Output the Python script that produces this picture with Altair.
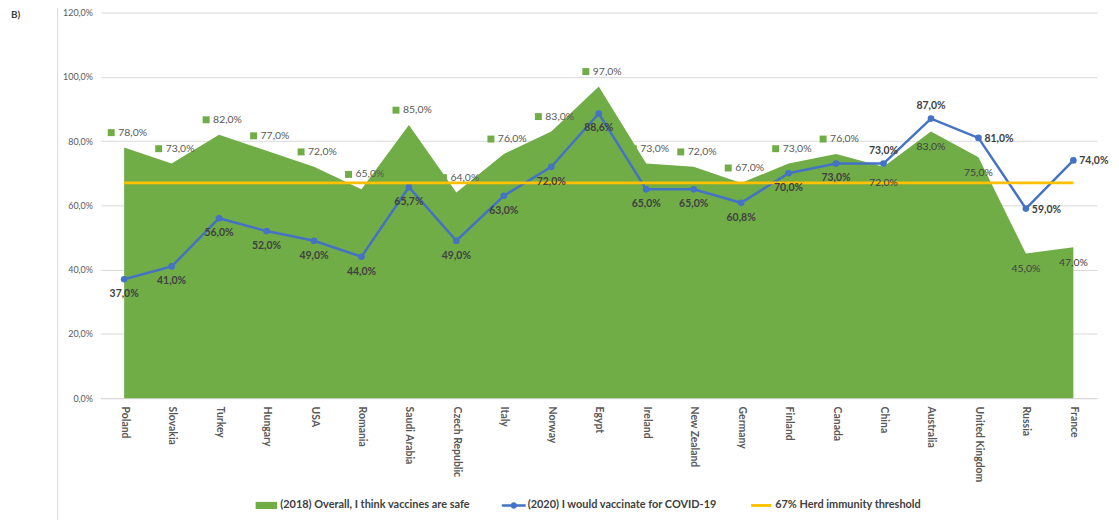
import altair as alt
import pandas as pd

countries = ["Poland", "Slovakia", "Turkey", "Hungary", "USA", "Romania", "Saudi Arabia",
             "Czech Republic", "Italy", "Norway", "Egypt", "Ireland", "New Zealand", "Germany",
             "Finland", "Canada", "China", "Australia", "United Kingdom", "Russia", "France"]
safe_2018 = [78, 73, 82, 77, 72, 65, 85, 64, 76, 83, 97, 73, 72, 67, 73, 76, 72, 83, 75, 45, 47]
vacc_2020 = [37, 41, 56, 52, 49, 44, 65.7, 49, 63, 72, 88.6, 65, 65, 60.8, 70, 73, 73, 87, 81, 59, 74]
herd = 67
y_ticks = [0, 20, 40, 60, 80, 100, 120]

L18 = "(2018) Overall, I think vaccines are safe"
L20 = "(2020) I would vaccinate for COVID-19"
L67 = "67% Herd immunity threshold"
series_names = [L18, L20, L67]

GREEN = "#70AD47"
BLUE = "#4472C4"
ORANGE = "#FFC000"
FONT = "Lato"

df = pd.DataFrame({"country": countries, "v2018": safe_2018, "v2020": vacc_2020,
                   "herd": [herd] * len(countries)})

xenc = alt.X("country:N", sort=countries,
             scale=alt.Scale(type="point", padding=0.5),
             axis=alt.Axis(title=None, labelAngle=90, labelFontWeight="bold", labelFontSize=10.5,
                           labelColor="#595959", labelFont=FONT, domain=True,
                           domainColor="#D9D9D9", ticks=False, labelPadding=8, grid=False))
yscale = alt.Scale(domain=[0, 120], nice=False)

color_scale = alt.Scale(domain=series_names, range=[GREEN, BLUE, ORANGE])
shape_scale = alt.Scale(domain=series_names, range=[
    "M-0.9,-0.3H0.9V0.3H-0.9Z",
    "M-1,-0.1H1V0.1H-1Z M-0.27,0A0.27,0.27,0,1,1,0.27,0A0.27,0.27,0,1,1,-0.27,0Z",
    "M-0.85,-0.12H0.85V0.12H-0.85Z",
])
legend = alt.Legend(
    title=None, orient="none", legendX=155, legendY=484, direction="horizontal",
    columns=3, columnPadding=32, labelFont=FONT, labelFontSize=11, labelFontWeight="bold",
    labelColor="#404040", symbolSize=576, labelOffset=2, labelLimit=400,
    symbolStrokeWidth=0, symbolOpacity=1,
)

base = alt.Chart(df)

area = base.mark_area(opacity=1).transform_calculate(series=f"'{L18}'").encode(
    x=xenc,
    y=alt.Y("v2018:Q", scale=yscale,
            axis=alt.Axis(title=None, values=y_ticks, domain=False, ticks=False,
                          labelFontSize=9, labelColor="#595959", labelFont=FONT,
                          labelPadding=8, gridColor="#D9D9D9",
                          labelExpr="replace(format(datum.value, '.1f'), '.', ',') + '%'")),
    color=alt.Color("series:N", scale=color_scale, legend=legend),
)

blue_line = base.mark_line(strokeWidth=2.5).transform_calculate(series=f"'{L20}'").encode(
    x=alt.X("country:N", sort=countries), y=alt.Y("v2020:Q"),
    color=alt.Color("series:N", scale=color_scale, legend=legend),
)
blue_pts = base.mark_circle(size=45, opacity=1, color=BLUE).encode(
    x=alt.X("country:N", sort=countries), y=alt.Y("v2020:Q"),
)

herd_line = base.mark_line(strokeWidth=3).transform_calculate(series=f"'{L67}'").encode(
    x=alt.X("country:N", sort=countries), y=alt.Y("herd:Q"),
    color=alt.Color("series:N", scale=color_scale, legend=legend),
)

legend_layer = alt.Chart(pd.DataFrame({"series": series_names})).transform_filter(
    "false").mark_point(filled=True, opacity=1).encode(
    color=alt.Color("series:N", scale=color_scale, legend=legend),
    shape=alt.Shape("series:N", scale=shape_scale, legend=legend),
)

fmt18 = "replace(format(datum.v2018, '.1f'), '.', ',') + '%'"
fmt20 = "replace(format(datum.v2020, '.1f'), '.', ',') + '%'"

g_above = base.transform_filter("datum.v2020 <= datum.v2018").transform_calculate(lab=fmt18)
g_sq = g_above.mark_square(size=49, color=GREEN, opacity=1, xOffset=-13, yOffset=-15).encode(
    x=alt.X("country:N", sort=countries), y=alt.Y("v2018:Q"))
g_txt = g_above.mark_text(align="left", dx=-6, dy=-15, fontSize=10.5, color="#595959",
                          font=FONT).encode(
    x=alt.X("country:N", sort=countries), y=alt.Y("v2018:Q"), text="lab:N")
g_below = base.transform_filter("datum.v2020 > datum.v2018").transform_calculate(lab=fmt18) \
    .mark_text(dy=16, fontSize=10.5, color="#404040", font=FONT).encode(
    x=alt.X("country:N", sort=countries), y=alt.Y("v2018:Q"), text="lab:N")

b_below = base.transform_filter("datum.v2020 <= datum.v2018").transform_calculate(lab=fmt20) \
    .mark_text(dy=15, fontSize=10.5, color="#404040", font=FONT, fontWeight="bold").encode(
    x=alt.X("country:N", sort=countries), y=alt.Y("v2020:Q"), text="lab:N")
b_above = base.transform_filter(
    "datum.v2020 > datum.v2018 && datum.v2020 - datum.v2018 <= 5").transform_calculate(lab=fmt20) \
    .mark_text(dy=-13, fontSize=10.5, color="#404040", font=FONT, fontWeight="bold").encode(
    x=alt.X("country:N", sort=countries), y=alt.Y("v2020:Q"), text="lab:N")
b_right = base.transform_filter("datum.v2020 - datum.v2018 > 5").transform_calculate(lab=fmt20) \
    .mark_text(align="left", dx=6, dy=1, fontSize=10.5, color="#404040", font=FONT,
               fontWeight="bold").encode(
    x=alt.X("country:N", sort=countries), y=alt.Y("v2020:Q"), text="lab:N")

tag = alt.Chart(pd.DataFrame({"t": ["B)"]})).mark_text(
    align="left", baseline="middle", fontSize=10, fontWeight="bold", color="#404040", font=FONT
).encode(x=alt.value(-90), y=alt.value(2), text="t:N")

border = alt.Chart(pd.DataFrame({"t": ["b"]})).mark_rule(color="#D9D9D9", strokeWidth=1).encode(
    x=alt.value(-43), y=alt.value(-6), y2=alt.value(520))

chart = alt.layer(
    area, blue_line, blue_pts, herd_line, g_sq, g_txt, g_below, b_below, b_above, b_right,
    tag, border, legend_layer
).properties(
    width=1003, height=388,
    autosize=alt.AutoSizeParams(type="none"),
    padding={"left": 93, "top": 3, "right": 14, "bottom": 121},
).configure_view(strokeWidth=0)

chart.save("out.html", embed_options={"renderer": "svg", "actions": False})
